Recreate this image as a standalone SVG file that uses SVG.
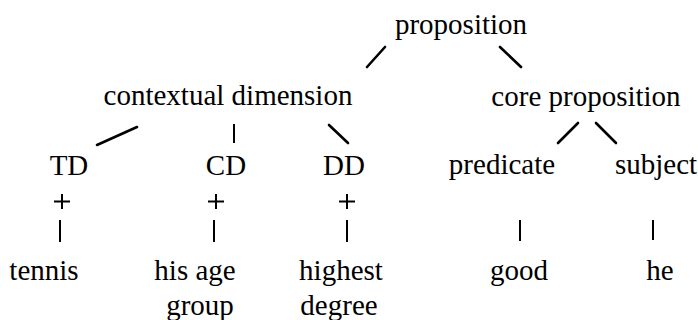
<svg xmlns="http://www.w3.org/2000/svg" width="698" height="320" viewBox="0 0 698 320">
<style>
.e{stroke:#000;stroke-width:2.6;stroke-linecap:round;fill:none}
.v{stroke:#000;stroke-width:2;fill:none}
.t{font-family:"Liberation Serif","DejaVu Serif",serif;font-size:29px;fill:#000;text-anchor:middle}
</style>
<rect width="698" height="320" fill="#fff"/>
<g id="connectors">
<line class="e" x1="385" y1="47" x2="367" y2="67"/>
<line class="e" x1="500" y1="47" x2="521" y2="67"/>
<line class="e" x1="137" y1="127" x2="97" y2="145"/>
<line class="v" x1="234" y1="124" x2="234" y2="143"/>
<line class="e" x1="329" y1="125" x2="348" y2="143"/>
<line class="e" x1="578" y1="123" x2="558" y2="143"/>
<line class="e" x1="596" y1="123" x2="616" y2="143"/>
<line class="v" x1="60" y1="220" x2="60" y2="242"/>
<line class="v" x1="214" y1="220" x2="214" y2="242"/>
<line class="v" x1="347" y1="220" x2="347" y2="242"/>
<line class="v" x1="520" y1="220" x2="520" y2="241"/>
<line class="v" x1="653" y1="220" x2="653" y2="240"/>
<line class="v" x1="54" y1="201.5" x2="70" y2="201.5" stroke-width="1.6"/>
<line class="v" x1="62" y1="194" x2="62" y2="209" stroke-width="1.6"/>
<line class="v" x1="208" y1="201.5" x2="224" y2="201.5" stroke-width="1.6"/>
<line class="v" x1="216" y1="194" x2="216" y2="209" stroke-width="1.6"/>
<line class="v" x1="339" y1="201.5" x2="355" y2="201.5" stroke-width="1.6"/>
<line class="v" x1="347" y1="194" x2="347" y2="209" stroke-width="1.6"/>
</g>
<g id="proposition"><text class="t" x="461" y="34">proposition</text></g>
<g id="contextual-dimension"><text class="t" x="228" y="105">contextual dimension</text></g>
<g id="core-proposition"><text class="t" x="586" y="106">core proposition</text></g>
<g id="TD"><text class="t" x="69" y="175">TD</text></g>
<g id="CD"><text class="t" x="226" y="175">CD</text></g>
<g id="DD"><text class="t" x="344" y="175">DD</text></g>
<g id="predicate"><text class="t" x="502" y="174">predicate</text></g>
<g id="subject"><text class="t" x="656" y="174">subject</text></g>
<g id="tennis"><text class="t" x="44" y="280">tennis</text></g>
<g id="his-age-group"><text class="t" x="195" y="280">his age</text><text class="t" x="200" y="315">group</text></g>
<g id="highest-degree"><text class="t" x="341" y="280">highest</text><text class="t" x="339" y="315">degree</text></g>
<g id="good"><text class="t" x="519" y="280">good</text></g>
<g id="he"><text class="t" x="660" y="280">he</text></g>
</svg>
